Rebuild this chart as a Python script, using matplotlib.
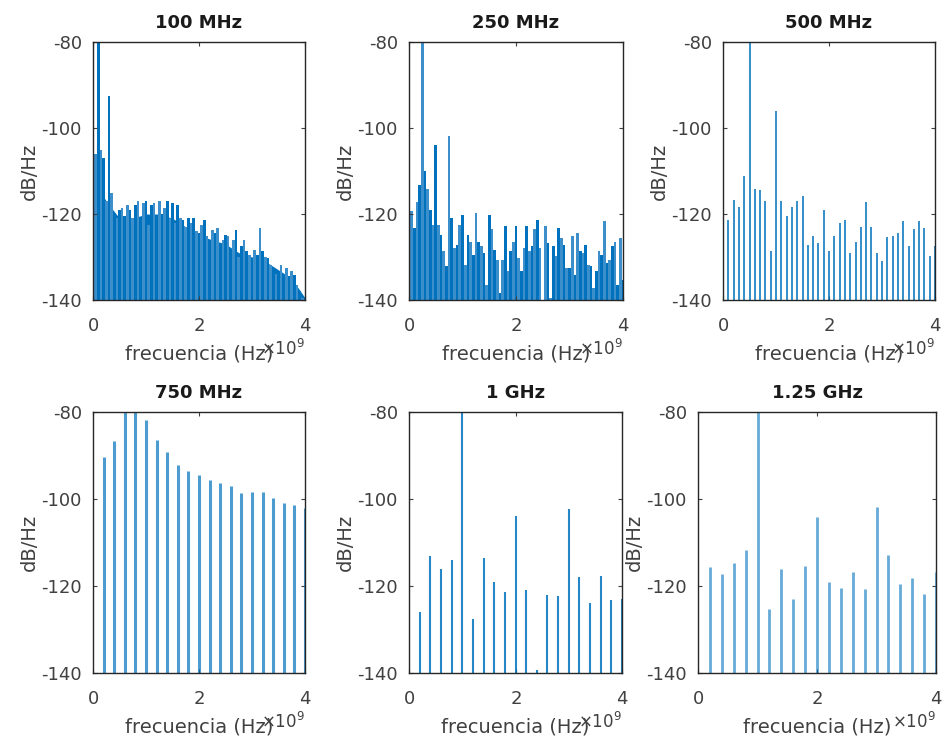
import numpy as np
import matplotlib
matplotlib.use("Agg")
import matplotlib.pyplot as plt
from matplotlib.ticker import ScalarFormatter

plt.rcParams['font.family'] = ['DejaVu Sans']
plt.rcParams['axes.unicode_minus'] = False

# Ejes de frecuencia (GHz)
f_005 = np.round(np.arange(0, 81) * 0.05, 2)   # 0.00 .. 4.00
f_01 = np.round(np.arange(1, 41) * 0.1, 2)     # 0.1 .. 4.0
f_02 = np.round(np.arange(1, 21) * 0.2, 2)     # 0.2 .. 4.0
f_025 = np.round(np.arange(0, 17) * 0.25, 2)   # 0 .. 4

# 100 MHz: picos y nivel del fondo relleno
psd_100 = [-112, -106, -80, -105, -107, -117, -92.5, -115, -123, -121,
           -119, -118.5, -120.5, -118, -119, -121, -118, -117, -121, -117.5,
           -117, -122.5, -118, -117.5, -121, -117, -120, -118.5, -117, -121,
           -117.5, -122, -118, -121, -121.5, -123, -121, -122, -121, -124,
           -124.5, -122.5, -121.5, -125, -127.5, -123.7, -124.5, -123.3, -127, -126,
           -124.8, -125.2, -128.7, -126, -123.7, -130, -127.5, -126, -128.7, -129.5,
           -130.6, -128.3, -129.5, -123.3, -128.7, -130, -130.2, -131.8, -132.6, -134,
           -133.3, -131.8, -134.9, -132.6, -134.5, -133.3, -134.1, -136.4, -138, -139.5,
           -139.8]
floor_100 = [-112, -117, -121, -121, -120, -120, -121, -123, -125,
             -126, -127, -129, -130, -131, -133, -135, -139.5]

# 250 MHz
psd_250 = [-119.5, -119.4, -123.3, -117.1, -113.2, -80, -110.1, -114.3, -119, -122.5,
           -103.9, -122.5, -124.8, -128.7, -132.2, -101.9, -120.9, -127.9, -127.1, -122.5,
           -120.2, -131.8, -124.8, -126.4, -129.5, -119.8, -126.4, -127.5, -129.1, -136.4,
           -120.2, -123.6, -128.3, -130.6, -138.4, -130.6, -122.9, -133.3, -128.7, -126.4,
           -122.9, -130.2, -133.3, -128, -122.9, -128.7, -127.5, -123.6, -121.3, -128,
           -140, -122.9, -126.7, -139.5, -127.5, -129.8, -123.3, -125.6, -127.1, -132.6,
           -132.6, -125.2, -134.1, -124.5, -128.7, -129.1, -127.1, -131.8, -132.2, -137.2,
           -133.3, -128.7, -129.5, -121.7, -131.4, -130.6, -127.5, -126.4, -136.4, -125.6,
           -135.3]

# 500 MHz
psd_500 = [-121.3, -116.7, -118.4, -111.2, -80, -114.3, -114.5, -117, -128.7, -96,
           -117, -120.5, -118.4, -117, -115.7, -127.3, -125, -126.7, -119, -128.7,
           -125, -122.2, -121.3, -129, -126.5, -123.1, -117.2, -123.1, -129, -131,
           -125.3, -125.2, -124.4, -121.7, -127.5, -123.6, -121.7, -123.3, -129.8, -127.5]

# 750 MHz
psd_750 = [-90.4, -86.6, -80, -80, -81.8, -86.5, -89.2, -92.1, -93.5, -94.4,
           -95.6, -96.4, -97.0, -98.7, -98.4, -98.4, -99.7, -100.9, -101.3, -102.0]

# 1 GHz
psd_1g = [-125.9, -113.1, -116.2, -114.0, -80, -127.7, -113.6, -119.0, -121.3, -103.9,
          -120.9, -139.4, -122.1, -122.3, -102.4, -118.0, -124.0, -117.6, -123.2, -123.1]

# 1.25 GHz
psd_125g = [-115.7, -117.2, -114.6, -111.7, -80, -125.4, -116.2, -122.9, -115.4, -104.2,
            -119.0, -120.4, -116.7, -120.8, -101.9, -112.9, -119.6, -118.1, -121.9, -116.8]

titles = ['100 MHz', '250 MHz', '500 MHz', '750 MHz', '1 GHz', '1.25 GHz']
azul = '#0072BD'
azul_claro = '#3d8fcc'

fig = plt.figure(figsize=(9.44, 7.45), dpi=100)
W, H = 944, 745
pos_px = [(93, 42, 212, 258), (409, 42, 214, 258), (723, 42, 212, 258),
          (93, 412, 212, 261), (409, 412, 213, 261), (698, 412, 238, 261)]
axs = [fig.add_axes([l / W, 1 - (t + h) / H, w / W, h / H]) for l, t, w, h in pos_px]

# 100 MHz
ax = axs[0]
ax.fill_between(f_025 * 1e9, floor_100, -140, color=azul, lw=0)
ax.bar(f_005 * 1e9, np.array(psd_100) + 140, bottom=-140, width=0.05e9,
       color=[azul, azul_claro] * 40 + [azul], lw=0)

# 250 MHz
axs[1].bar(f_005 * 1e9, np.array(psd_250) + 140, bottom=-140, width=0.05e9,
           color=[azul, azul_claro] * 40 + [azul], lw=0)

# lineas espectrales
axs[2].vlines(f_01 * 1e9, -140, psd_500, color=azul, lw=1.4, alpha=0.8)
axs[3].vlines(f_02 * 1e9, -140, psd_750, color=azul, lw=2.2, alpha=0.7)
axs[4].vlines(f_02 * 1e9, -140, psd_1g, color=azul, lw=1.5, alpha=0.85)
axs[5].vlines(f_02 * 1e9, -140, psd_125g, color=azul, lw=2.0, alpha=0.6)

for ax, t in zip(axs, titles):
    ax.set_xlim(0, 4e9)
    ax.set_ylim(-140, -80)
    ax.set_xticks([0, 2e9, 4e9])
    ax.set_yticks([-140, -120, -100, -80])
    fmt = ScalarFormatter(useMathText=True)
    fmt.set_powerlimits((0, 0))
    ax.xaxis.set_major_formatter(fmt)
    ax.xaxis.get_offset_text().set_fontsize(12)
    ax.xaxis.get_offset_text().set_color('#404040')
    ax.tick_params(direction='in', length=3, width=0.8, top=True, right=True,
                   labelsize=13, colors='#404040')
    ax.tick_params(axis='x', pad=12)
    ax.tick_params(axis='y', pad=8)
    for s in ax.spines.values():
        s.set_color('#262626')
        s.set_linewidth(1.0)
    ax.set_title(t, fontsize=13, fontweight='bold', color='#1a1a1a', pad=10)
    ax.set_xlabel('frecuencia (Hz)', fontsize=14, color='#404040', labelpad=7)
    ax.set_ylabel('dB/Hz', fontsize=14, color='#404040', labelpad=2)

fig.savefig('out.png', dpi=100, facecolor='white')
